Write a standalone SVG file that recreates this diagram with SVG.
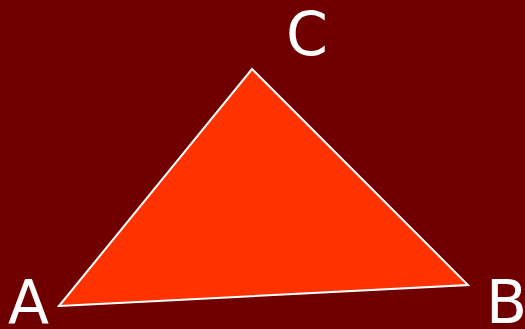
<svg xmlns="http://www.w3.org/2000/svg" width="525" height="329" viewBox="0 0 525 329">
<style>
.lbl{font-family:"DejaVu Sans",sans-serif;font-size:60px;fill:#ffffff}
</style>
<rect width="525" height="329" fill="#700000"/>
<g id="triangle">
<polygon points="59,306 468,285 252,69" fill="#ff3300" stroke="#ffffff" stroke-width="2"/>
</g>
<g id="labelA"><text class="lbl" x="8" y="323">A</text></g>
<g id="labelB"><text class="lbl" x="486" y="323">B</text></g>
<g id="labelC"><text class="lbl" x="286" y="55">C</text></g>
</svg>
